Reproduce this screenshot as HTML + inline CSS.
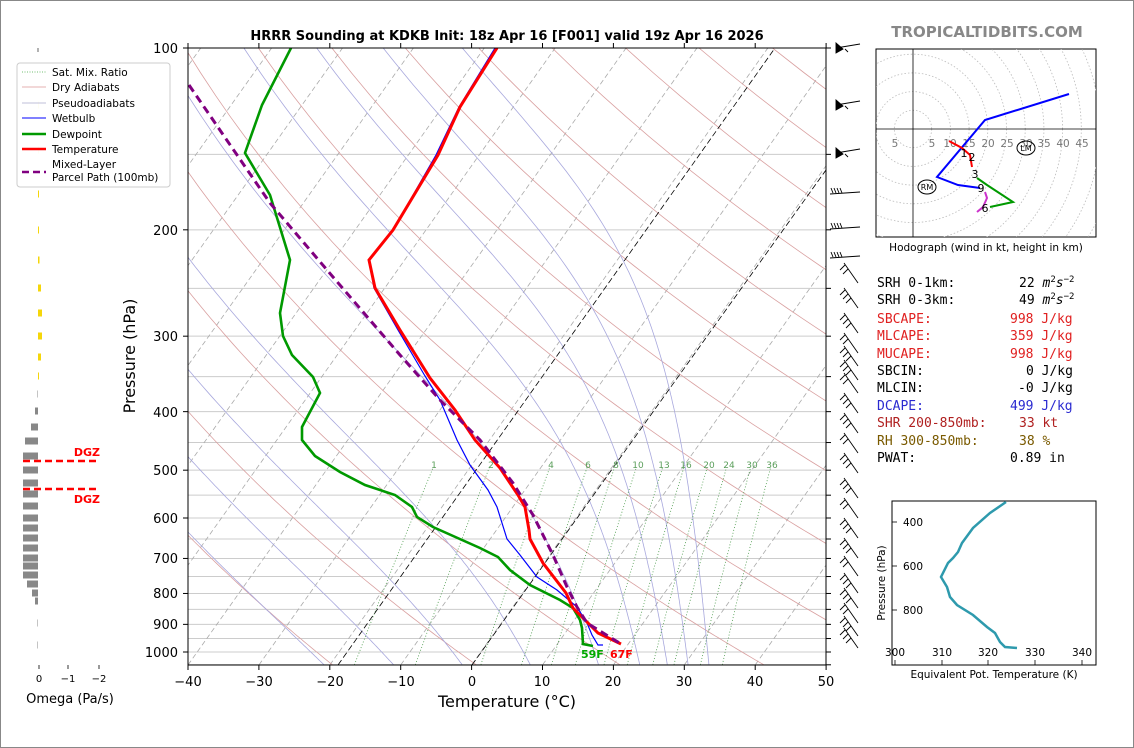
<!DOCTYPE html>
<html><head><meta charset="utf-8"><style>
body{margin:0;background:#fff;}
#c{position:relative;width:1134px;height:748px;overflow:hidden;font-family:"DejaVu Sans","Liberation Sans",sans-serif;}
svg text{font-family:"DejaVu Sans","Liberation Sans",sans-serif;}
svg g.mono text{font-family:"DejaVu Sans Mono","Liberation Mono",monospace;}
</style></head><body><div id="c">
<svg id="s" width="1134" height="748" xmlns="http://www.w3.org/2000/svg">
<rect x="0.5" y="0.5" width="1133" height="747" fill="#fff" stroke="#888"/>
<defs><clipPath id="pc"><rect x="188" y="48" width="638" height="617"/></clipPath>
<clipPath id="hc"><rect x="876" y="49" width="220" height="188"/></clipPath></defs>
<g id="bg" clip-path="url(#pc)"></g>
<g clip-path="url(#pc)" fill="none">
<polyline points="338,665 775,48" stroke="#000" stroke-width="0.8" stroke-dasharray="6,3"/>
<polyline points="472,665 826,170" stroke="#000" stroke-width="0.8" stroke-dasharray="6,3"/>
<g fill="#5a9e5a" font-size="9" stroke="none" text-anchor="middle">
<text x="434" y="468">1</text><text x="491" y="468">2</text><text x="551" y="468">4</text><text x="588" y="468">6</text><text x="616" y="468">8</text><text x="638" y="468">10</text><text x="664" y="468">13</text><text x="686" y="468">16</text><text x="709" y="468">20</text><text x="729" y="468">24</text><text x="752" y="468">30</text><text x="772" y="468">36</text></g>
<polyline stroke="#0000ff" stroke-width="1.2" points="495,48 459,107 436,155 393,230 369,260 374,288 398,330 425,376 440,400 457,440 470,465 488,490 497,507 507,539 520,555 537,577 557,590 577,607 587,623 592,635 598,645 603,645"/>
<polyline stroke="#009900" stroke-width="2.6" points="291,48 262,105 245,153 270,195 290,260 280,313 283,336 292,355 313,377 320,393 302,427 302,440 315,456 340,472 365,485 395,495 412,507 417,517 433,527 480,548 498,557 510,570 530,585 560,600 573,608 580,620 582,628 583,644 593,646"/>
<polyline stroke="#ff0000" stroke-width="3" points="497,48 460,107 438,155 393,230 369,260 375,288 400,330 430,378 455,410 475,440 500,468 518,495 525,507 529,530 530,539 543,563 566,593 573,608 588,623 598,633 621,644"/>
<polyline stroke="#800080" stroke-width="3" stroke-dasharray="8,5" points="189,85 270,203 333,277 400,355 440,400 480,440 513,483 533,515 553,555 567,587 577,607 587,623 621,644"/>
</g>
<text x="581" y="658" font-size="11" font-weight="bold" fill="#00aa00">59F</text>
<text x="610" y="658" font-size="11" font-weight="bold" fill="#ff0000">67F</text>
<rect x="188" y="48" width="638" height="617" fill="none" stroke="#000" stroke-width="1"/>
<g id="ax"></g>
<text x="507" y="40" font-size="13" font-weight="bold" text-anchor="middle">HRRR Sounding at KDKB Init: 18z Apr 16 [F001] valid 19z Apr 16 2026</text>
<text x="987" y="37" font-size="15" font-weight="bold" fill="#888" text-anchor="middle">TROPICALTIDBITS.COM</text>
<g font-size="13" text-anchor="middle">
<text x="188" y="686">−40</text><text x="259" y="686">−30</text><text x="330" y="686">−20</text><text x="401" y="686">−10</text><text x="472" y="686">0</text><text x="542" y="686">10</text><text x="613" y="686">20</text><text x="684" y="686">30</text><text x="755" y="686">40</text><text x="826" y="686">50</text></g>
<text x="507" y="707" font-size="16" text-anchor="middle">Temperature (°C)</text>
<g font-size="13" text-anchor="end">
<text x="178" y="53">100</text><text x="178" y="235">200</text><text x="178" y="341">300</text><text x="178" y="417">400</text><text x="178" y="475">500</text><text x="178" y="523">600</text><text x="178" y="563">700</text><text x="178" y="598">800</text><text x="178" y="629">900</text><text x="178" y="657">1000</text></g>
<text transform="translate(135,356) rotate(-90)" font-size="16" text-anchor="middle">Pressure (hPa)</text>
<line x1="38" y1="48" x2="38" y2="52" stroke="#000" stroke-width="0.6"/>
<g id="om"></g>
<line x1="23" y1="461" x2="99" y2="461" stroke="#f00" stroke-width="2.5" stroke-dasharray="7,4"/>
<line x1="23" y1="489" x2="99" y2="489" stroke="#f00" stroke-width="2.5" stroke-dasharray="7,4"/>
<text x="100" y="456" font-size="11" font-weight="bold" fill="#f00" text-anchor="end">DGZ</text>
<text x="100" y="503" font-size="11" font-weight="bold" fill="#f00" text-anchor="end">DGZ</text>
<g stroke="#000" stroke-width="0.8"><line x1="39" y1="665" x2="39" y2="669"/><line x1="68" y1="665" x2="68" y2="669"/><line x1="99" y1="665" x2="99" y2="669"/></g>
<g font-size="10" text-anchor="middle"><text x="39" y="682">0</text><text x="68" y="682">−1</text><text x="99" y="682">−2</text></g>
<text x="70" y="703" font-size="13" text-anchor="middle">Omega (Pa/s)</text>
<rect x="17" y="63" width="153" height="124" rx="3" fill="#fff" fill-opacity="0.9" stroke="#ccc"/>
<g font-size="10.5">
<line x1="22" y1="72" x2="46" y2="72" stroke="#4a4" stroke-dasharray="1,1.5" stroke-width="0.8"/><text x="52" y="76">Sat. Mix. Ratio</text>
<line x1="22" y1="87" x2="46" y2="87" stroke="#d99" stroke-width="0.8"/><text x="52" y="91">Dry Adiabats</text>
<line x1="22" y1="103" x2="46" y2="103" stroke="#aac" stroke-width="0.8"/><text x="52" y="107">Pseudoadiabats</text>
<line x1="22" y1="118" x2="46" y2="118" stroke="#00f" stroke-width="1"/><text x="52" y="122">Wetbulb</text>
<line x1="22" y1="134" x2="46" y2="134" stroke="#090" stroke-width="2.5"/><text x="52" y="138">Dewpoint</text>
<line x1="22" y1="149" x2="46" y2="149" stroke="#f00" stroke-width="2.5"/><text x="52" y="153">Temperature</text>
<line x1="22" y1="172" x2="46" y2="172" stroke="#800080" stroke-width="2.5" stroke-dasharray="7,4"/><text x="52" y="168">Mixed-Layer</text><text x="52" y="181">Parcel Path (100mb)</text>
</g>
<g id="barbs" stroke="#000" stroke-width="0.9" fill="none"></g>
<rect x="876" y="49" width="220" height="188" fill="#fff" stroke="#000"/>
<g clip-path="url(#hc)" fill="none">
<g id="hcir" stroke="#bbb" stroke-width="0.8" stroke-dasharray="1.5,2"></g>
<line x1="913" y1="49" x2="913" y2="237" stroke="#000" stroke-width="0.8"/>
<line x1="876" y1="129" x2="1096" y2="129" stroke="#000" stroke-width="0.8"/>
<g font-size="10.5" fill="#777" stroke="none" text-anchor="middle"><text x="895" y="147">5</text><text x="932" y="147">5</text><text x="950" y="147">10</text><text x="969" y="147">15</text><text x="988" y="147">20</text><text x="1007" y="147">25</text><text x="1026" y="147">30</text><text x="1044" y="147">35</text><text x="1063" y="147">40</text><text x="1082" y="147">45</text></g>
<polyline stroke="#00f" stroke-width="2" points="1069,94 985,120 937,177 958,185 980,188"/>
<polyline stroke="#f00" stroke-width="2" points="949,141 962,148 970,155 972,167"/>
<polyline stroke="#090" stroke-width="2" points="977,178 987,185 1013,202 990,207"/>
<polyline stroke="#c3c" stroke-width="2" points="985,192 987,198 983,207 977,212 982,208"/>
<g font-size="11" fill="#000" stroke="none" text-anchor="middle"><text x="964" y="157">1</text><text x="972" y="161">2</text><text x="975" y="178">3</text><text x="981" y="192">9</text><text x="985" y="212">6</text></g>
<ellipse cx="927" cy="187" rx="9" ry="7" stroke="#000"/><text x="927" y="190" font-size="8" text-anchor="middle" fill="#000" stroke="none">RM</text>
<ellipse cx="1026" cy="148" rx="9" ry="7" stroke="#000"/><text x="1026" y="151" font-size="8" text-anchor="middle" fill="#000" stroke="none">LM</text>
</g>
<text x="986" y="251" font-size="10.5" text-anchor="middle">Hodograph (wind in kt, height in km)</text>
<rect x="892" y="501" width="204" height="164" fill="#fff" stroke="#000"/>
<polyline fill="none" stroke="#2e9aad" stroke-width="2.5" points="1006,502 990,513 973,528 962,543 958,552 953,558 948,563 941,577 947,587 950,597 957,605 973,615 987,627 995,633 1000,642 1005,647 1017,648"/>
<g stroke="#000" stroke-width="0.8"><line x1="892" y1="522" x2="897" y2="522"/><line x1="892" y1="566" x2="897" y2="566"/><line x1="892" y1="610" x2="897" y2="610"/>
<line x1="895" y1="665" x2="895" y2="660"/><line x1="942" y1="665" x2="942" y2="660"/><line x1="988" y1="665" x2="988" y2="660"/><line x1="1035" y1="665" x2="1035" y2="660"/><line x1="1082" y1="665" x2="1082" y2="660"/></g>
<g font-size="10.5" text-anchor="end"><text x="923" y="526">400</text><text x="923" y="570">600</text><text x="923" y="614">800</text></g>
<g font-size="10.5" text-anchor="middle"><text x="895" y="656">300</text><text x="942" y="656">310</text><text x="988" y="656">320</text><text x="1035" y="656">330</text><text x="1082" y="656">340</text></g>
<text x="994" y="678" font-size="10.5" text-anchor="middle">Equivalent Pot. Temperature (K)</text>
<text transform="translate(885,583) rotate(-90)" font-size="10.5" text-anchor="middle">Pressure (hPa)</text>
<g class="mono" font-size="13">
<text x="877" y="287">SRH 0-1km:</text><text x="1019" y="287">22 <tspan font-style="italic">m</tspan><tspan font-size="9" dy="-5">2</tspan><tspan font-style="italic" dy="5">s</tspan><tspan font-size="9" dy="-5">−2</tspan></text>
<text x="877" y="304">SRH 0-3km:</text><text x="1019" y="304">49 <tspan font-style="italic">m</tspan><tspan font-size="9" dy="-5">2</tspan><tspan font-style="italic" dy="5">s</tspan><tspan font-size="9" dy="-5">−2</tspan></text>
<g fill="#e02020"><text x="877" y="323">SBCAPE:</text><text x="1010" y="323">998 J/kg</text>
<text x="877" y="340">MLCAPE:</text><text x="1010" y="340">359 J/kg</text>
<text x="877" y="358">MUCAPE:</text><text x="1010" y="358">998 J/kg</text></g>
<text x="877" y="375">SBCIN:</text><text x="1026" y="375">0 J/kg</text>
<text x="877" y="392">MLCIN:</text><text x="1018" y="392">-0 J/kg</text>
<g fill="#2a2ad0"><text x="877" y="410">DCAPE:</text><text x="1010" y="410">499 J/kg</text></g>
<g fill="#b02020"><text x="877" y="427">SHR 200-850mb:</text><text x="1019" y="427">33 kt</text></g>
<g fill="#7a5a00"><text x="877" y="445">RH 300-850mb:</text><text x="1019" y="445">38 %</text></g>
<text x="877" y="462">PWAT:</text><text x="1010" y="462">0.89 in</text>
</g>
</svg>
</div>
<script>
(function(){
var NS="http://www.w3.org/2000/svg";
function Y(p){return 48+(Math.log10(p)-2)*604;}
function X(T,p){return 188+(T+40)*7.089+(665-Y(p))*0.71;}
function add(g,tag,at){var e=document.createElementNS(NS,tag);for(var k in at)e.setAttribute(k,at[k]);g.appendChild(e);return e;}
var bg=document.getElementById('bg');
for(var p=100;p<=1050;p+=50){var y=Y(p);add(bg,'line',{x1:188,x2:826,y1:y,y2:y,stroke:'#ccc','stroke-width':1});}
for(var T=-130;T<=50;T+=10){add(bg,'line',{x1:X(T,1050),y1:Y(1050),x2:X(T,100),y2:Y(100),stroke:'#aaa','stroke-width':0.8,'stroke-dasharray':'5,3'});}
for(var th=230;th<=500;th+=20){var pts=[];for(var p=1050;p>=100;p-=10){var T=th*Math.pow(p/1000,0.2857)-273.15;pts.push(X(T,p).toFixed(1)+','+Y(p).toFixed(1));}
add(bg,'polyline',{points:pts.join(' '),fill:'none',stroke:'#d9a0a0','stroke-width':0.8});}
function es(Tc){return 6.112*Math.exp(17.67*Tc/(Tc+243.5));}
var Rd=287,cp=1004,Lv=2.5e6,eps=0.622;
[-24,-14,-4,6,16,22,26,29,32].forEach(function(t0){var T=t0+273.15,pts=[];
 var Tb=T;for(var p=1000;p<1050;p+=5){var rs=eps*es(Tb-273.15)/(p-es(Tb-273.15));var d=(Rd*Tb+Lv*rs)/(p*(cp+Lv*Lv*rs*eps/(Rd*Tb*Tb)));Tb+=d*5;}
 T=Tb;for(var p=1050;p>=100;p-=5){pts.push(X(T-273.15,p).toFixed(1)+','+Y(p).toFixed(1));var e=es(T-273.15);var rs=eps*e/(p-e);var d=(Rd*T+Lv*rs)/(p*(cp+Lv*Lv*rs*eps/(Rd*T*T)));T-=d*5;}
 add(bg,'polyline',{points:pts.join(' '),fill:'none',stroke:'#a8a8dd','stroke-width':0.8});});
[1,2,4,6,8,10,13,16,20,24,30,36].forEach(function(w){var pts=[];w/=1000;for(var p=1050;p>=485;p-=15){var e=w*p/(eps+w);var l=Math.log(e/6.112);var Tc=243.5*l/(17.67-l);pts.push(X(Tc,p).toFixed(1)+','+Y(p).toFixed(1));}
 add(bg,'polyline',{points:pts.join(' '),fill:'none',stroke:'#4a9a4a','stroke-width':0.8,'stroke-dasharray':'1,2'});});
var ax=document.getElementById('ax');
for(var p=100;p<=1000;p+=100){var y=Y(p);add(ax,'line',{x1:183,x2:188,y1:y,y2:y,stroke:'#000'});}
for(var p=100;p<=1050;p+=50){var y=Y(p);add(ax,'line',{x1:826,x2:831,y1:y,y2:y,stroke:'#000'});}
for(var i=0;i<=9;i++){var x=188+i*70.9;add(ax,'line',{x1:x,x2:x,y1:665,y2:670,stroke:'#000'});add(ax,'line',{x1:x,x2:x,y1:48,y2:43,stroke:'#000'});}
var om=document.getElementById('om');
[[105,0.5],[150,0.5],[194,1],[230,1],[260,1.5],[288,3],[313,4],[336,4],[357,3],[376,1]].forEach(function(b){add(om,'rect',{x:38,y:b[0]-3.5,width:b[1],height:7,fill:'#f5d60a'});});
[[394,0.5],[411,3],[427,7],[441,13],[456,15],[470,15],[483,15],[494,15],[506,15],[518,15],[528,15],[538,15],[548,15],[558,15],[566,15],[575,15],[584,11],[593,6],[601,3],[623,0.5],[645,0.5]].forEach(function(b){add(om,'rect',{x:38-b[1],y:b[0]-3.5,width:b[1],height:7,fill:'#888'});});
var bb=document.getElementById('barbs');
[48,105,153].forEach(function(y){add(bb,'line',{x1:836,y1:y,x2:860,y2:y-4});add(bb,'polygon',{points:'836,'+(y-5)+' 836,'+(y+5)+' 843,'+(y+1),fill:'#000'});add(bb,'line',{x1:845,y1:y+1,x2:848,y2:y+4});});
[194,229,258].forEach(function(y){add(bb,'line',{x1:830,y1:y,x2:860,y2:y-2});for(var k=0;k<4;k++)add(bb,'line',{x1:833+k*3,y1:y-1,x2:831+k*3,y2:y-6});});
[275,300,325,345,358,372,385,405,425,445,465,490,510,530,550,568,585,600,615,628,640].forEach(function(y,i){add(bb,'line',{x1:844,y1:y-12,x2:858,y2:y+8});var n=(i%3==0)?2:3;for(var k=0;k<n;k++)add(bb,'line',{x1:845+k*3,y1:y-10+k*4,x2:840+k*3,y2:y-5+k*4});});
var hc=document.getElementById('hcir');for(var r=1;r<=14;r++)add(hc,'circle',{cx:913,cy:129,r:r*18.7});
})();
</script>
</body></html>
